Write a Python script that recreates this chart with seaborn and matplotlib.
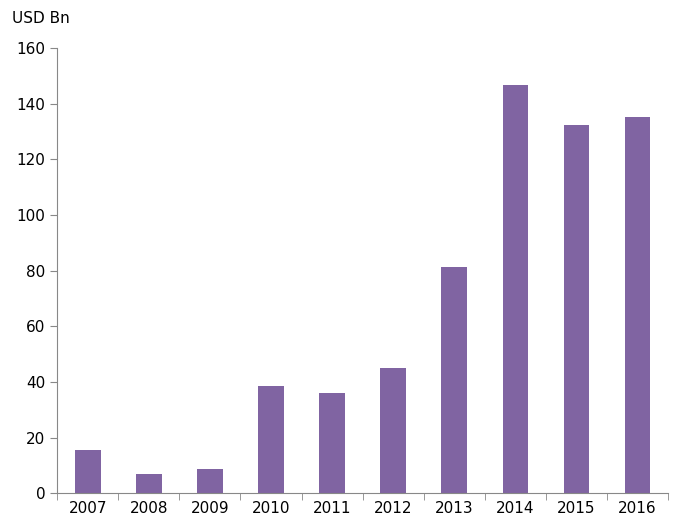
import matplotlib
matplotlib.use("Agg")
import matplotlib.pyplot as plt
import seaborn as sns
import pandas as pd
import numpy as np

years = ["2007", "2008", "2009", "2010", "2011", "2012", "2013", "2014", "2015", "2016"]
values = [15.5, 6.8, 8.6, 38.5, 36.0, 45.0, 81.3, 146.8, 132.4, 135.3]

df = pd.DataFrame({"year": years, "value": values})
plt.rcParams["font.family"] = "DejaVu Sans"
fig = plt.figure(figsize=(6.81, 5.32), dpi=100)
ax = fig.add_axes([0.084, 0.073, 0.897, 0.837])
sns.barplot(data=df, x="year", y="value", color="#8064A2", saturation=1, width=0.42, ax=ax)
ax.set_ylim(0, 160)
ax.set_xlim(-0.5, len(years) - 0.5)
ax.set_yticks(range(0, 161, 20))
ax.set_xlabel("")
ax.set_ylabel("")
for s in ["top", "right"]:
    ax.spines[s].set_visible(False)
for s in ["left", "bottom"]:
    ax.spines[s].set_color("#888888")
ax.tick_params(axis="x", which="major", length=0, labelsize=11, pad=6)
ax.set_xticks(np.arange(-0.5, len(years), 1), minor=True)
ax.tick_params(axis="x", which="minor", length=5, color="#888888")
ax.tick_params(axis="y", length=5, color="#888888", labelsize=11)
fig.text(0.018, 0.965, "USD Bn", fontsize=11, va="center")
fig.savefig("out.png", dpi=100)
